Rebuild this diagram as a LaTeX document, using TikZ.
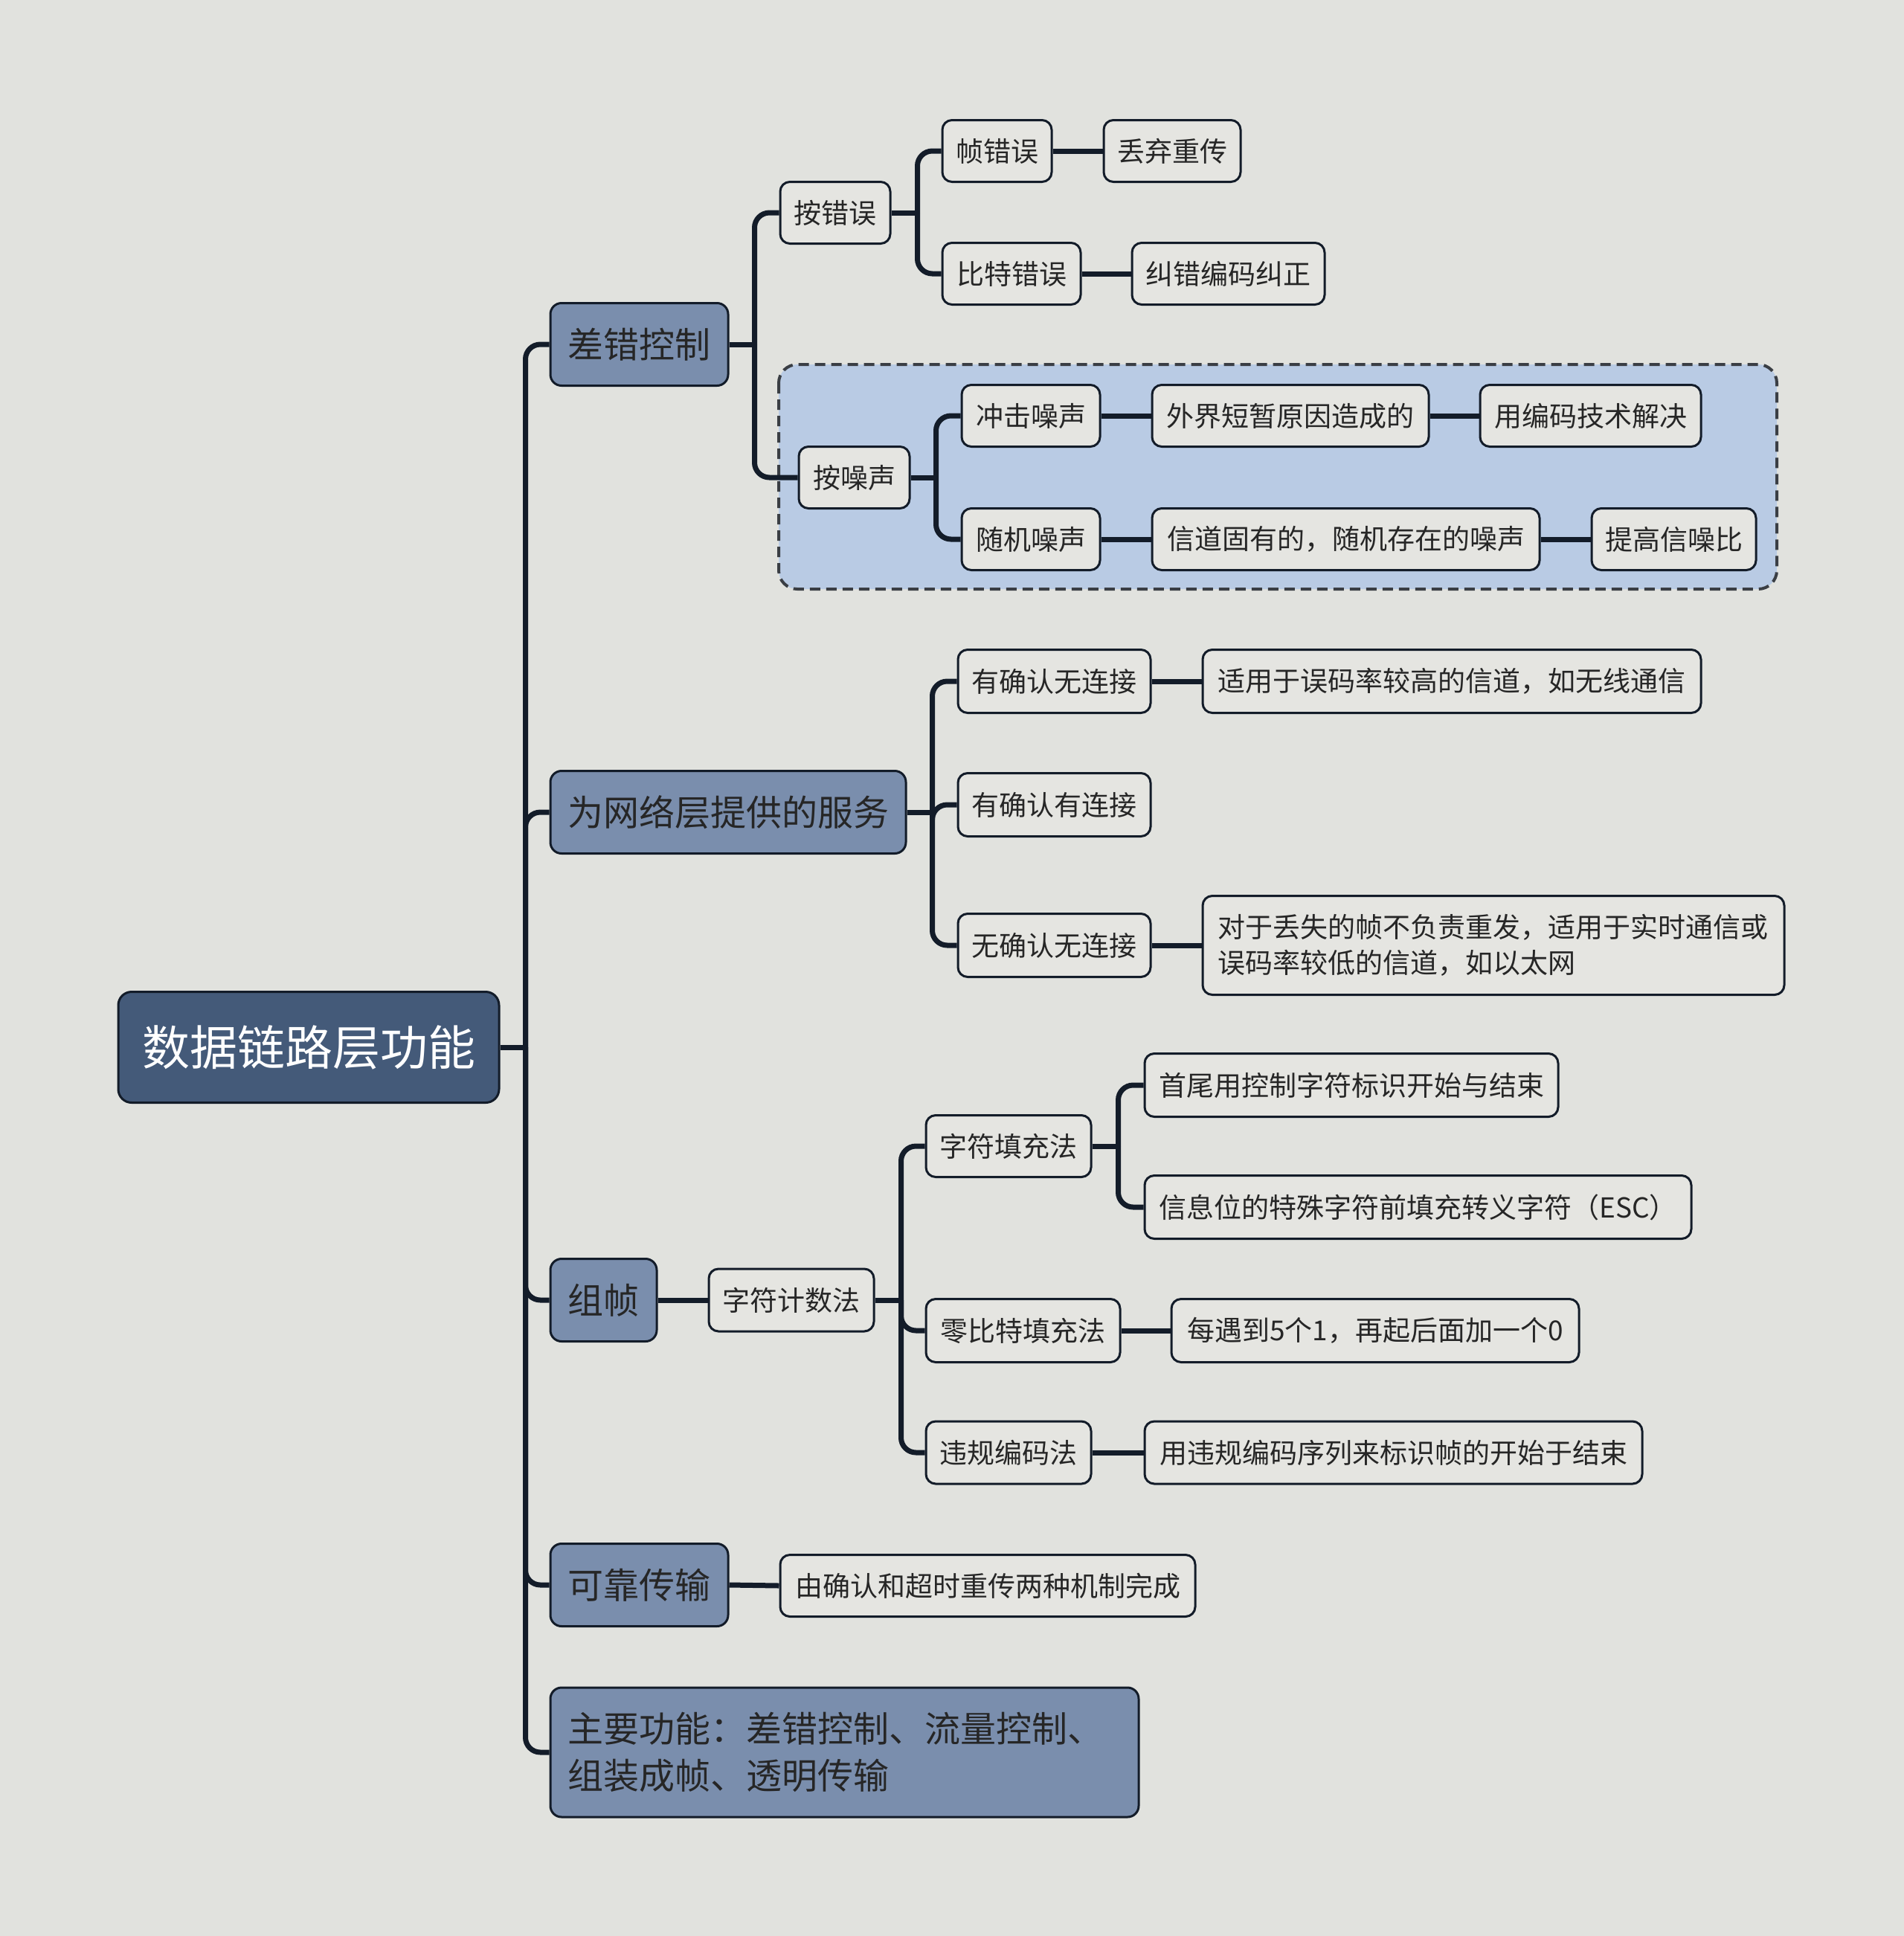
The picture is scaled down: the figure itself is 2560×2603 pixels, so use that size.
\documentclass[tikz,border=0pt]{standalone}
\usepackage{fontspec}
\setmainfont{Noto Sans CJK SC}
\definecolor{bgc}{HTML}{E1E2DE}
\definecolor{rootc}{HTML}{445A79}
\definecolor{lonec}{HTML}{7A8EAD}
\definecolor{leafc}{HTML}{E5E5E1}
\definecolor{linec}{HTML}{131C29}
\definecolor{txtc}{HTML}{262626}
\definecolor{boxc}{HTML}{B9CBE4}
\definecolor{dashc}{HTML}{3A3E44}
\pgfdeclarelayer{bglayer}
\pgfdeclarelayer{connlayer}
\pgfsetlayers{bglayer,connlayer,main}
\tikzset{
  leaf/.style={draw=linec, line width=3pt, fill=leafc, rounded corners=13pt, minimum height=83pt, inner sep=0pt, text=txtc, font=\fontsize{37}{48}\selectfont},
  lone/.style={draw=linec, line width=3pt, fill=lonec, rounded corners=15pt, minimum height=111pt, inner sep=0pt, text=txtc, font=\fontsize{48}{63}\selectfont},
  rootn/.style={draw=linec, line width=3pt, fill=rootc, rounded corners=18pt, inner sep=0pt, text=white, font=\fontsize{64}{76}\selectfont},
  conn/.style={draw=linec, line width=7pt, rounded corners=20pt},
  noisebox/.style={draw=dashc, fill=boxc, line width=4pt, dash pattern=on 14pt off 8pt, rounded corners=25pt}
}
\begin{document}
\begin{tikzpicture}[x=1pt,y=-1pt]
\begin{pgfonlayer}{bglayer}
\fill[bgc] (0,0) rectangle (2560,2603);
\draw[noisebox] (1047,490) rectangle (2389,792);
\end{pgfonlayer}
\useasboundingbox (0,0) rectangle (2560,2603);

% root
\node[rootn, minimum width=512pt, minimum height=149pt] (root) at (415,1408) {数据链路层功能};

% level 1
\node[lone, minimum width=239pt] (ec) at (859.5,463) {差错控制};
\node[lone, minimum width=478pt] (svc) at (979,1092) {为网络层提供的服务};
\node[lone, minimum width=143pt] (frm) at (811.5,1748) {组帧};
\node[lone, minimum width=239pt] (rel) at (859.5,2131) {可靠传输};
\node[lone, text width=745pt, align=left, inner xsep=23pt, minimum height=174pt] (mainf) at (1135.5,2356) {主要功能：差错控制、流量控制、\\组装成帧、透明传输};

% error control
\node[leaf, minimum width=148pt] (e1) at (1123,286) {按错误};
\node[leaf, minimum width=149pt] (n1) at (1148.5,642) {按噪声};
\node[leaf, minimum width=147pt] (e11) at (1340.5,203) {帧错误};
\node[leaf, minimum width=184pt] (e111) at (1576,203) {丢弃重传};
\node[leaf, minimum width=186pt] (e12) at (1360,368) {比特错误};
\node[leaf, minimum width=259pt] (e121) at (1651.5,368) {纠错编码纠正};
\node[leaf, minimum width=186pt] (n11) at (1386,559) {冲击噪声};
\node[leaf, minimum width=372pt] (n111) at (1735,559) {外界短暂原因造成的};
\node[leaf, minimum width=297pt] (n1111) at (2138.5,559) {用编码技术解决};
\node[leaf, minimum width=186pt] (n12) at (1386,725) {随机噪声};
\node[leaf, minimum width=521pt] (n121) at (1809.5,725) {信道固有的，随机存在的噪声};
\node[leaf, minimum width=221pt] (n1211) at (2250.5,725) {提高信噪比};

% services
\node[leaf, minimum width=259pt, minimum height=85pt] (s1) at (1417.5,916) {有确认无连接};
\node[leaf, minimum width=670pt, minimum height=85pt] (s11) at (1952,916) {适用于误码率较高的信道，如无线通信};
\node[leaf, minimum width=259pt, minimum height=85pt] (s2) at (1417.5,1082) {有确认有连接};
\node[leaf, minimum width=259pt, minimum height=85pt] (s3) at (1417.5,1271) {无确认无连接};
\node[leaf, text width=742pt, align=left, inner xsep=20pt, minimum height=133pt] (s31) at (2008,1271) {对于丢失的帧不负责重发，适用于实时通信或\\误码率较低的信道，如以太网};

% framing
\node[leaf, minimum width=222pt, minimum height=84pt] (f1) at (1064,1748) {字符计数法};
\node[leaf, minimum width=222pt] (f11) at (1356,1541) {字符填充法};
\node[leaf, minimum width=556pt, minimum height=85pt] (f111) at (1817,1459) {首尾用控制字符标识开始与结束};
\node[leaf, minimum width=735pt, minimum height=85pt] (f112) at (1906.5,1623) {信息位的特殊字符前填充转义字符（ESC）};
\node[leaf, minimum width=261pt, minimum height=85pt] (f12) at (1375.5,1789) {零比特填充法};
\node[leaf, minimum width=548pt, minimum height=85pt] (f121) at (1849,1789) {每遇到5个1，再起后面加一个0};
\node[leaf, minimum width=222pt, minimum height=84pt] (f13) at (1356,1953) {违规编码法};
\node[leaf, minimum width=669pt, minimum height=84pt] (f131) at (1873.5,1953) {用违规编码序列来标识帧的开始于结束};

% reliable
\node[leaf, minimum width=558pt] (r1) at (1328,2132) {由确认和超时重传两种机制完成};

\begin{pgfonlayer}{connlayer}
% trunk
\draw[conn] (root.east) -- ++(34,0) coordinate (jr);
\foreach \n in {ec,svc,frm,rel,mainf} \draw[conn] (jr) |- (\n.west);
% error control
\draw[conn] (ec.east) -- ++(34,0) coordinate (jec);
\foreach \n in {e1,n1} \draw[conn] (jec) |- (\n.west);
\draw[conn] (e1.east) -- ++(35,0) coordinate (je1);
\foreach \n in {e11,e12} \draw[conn] (je1) |- (\n.west);
\draw[conn] (n1.east) -- ++(34,0) coordinate (jn1);
\foreach \n in {n11,n12} \draw[conn] (jn1) |- (\n.west);
\draw[conn] (e11.east) -- (e111.west);
\draw[conn] (e12.east) -- (e121.west);
\draw[conn] (n11.east) -- (n111.west);
\draw[conn] (n111.east) -- (n1111.west);
\draw[conn] (n12.east) -- (n121.west);
\draw[conn] (n121.east) -- (n1211.west);
% services
\draw[conn] (svc.east) -- ++(34,0) coordinate (jsv);
\foreach \n in {s1,s2,s3} \draw[conn] (jsv) |- (\n.west);
\draw[conn] (s1.east) -- (s11.west);
\draw[conn] (s3.east) -- (s31.west);
% framing
\draw[conn] (frm.east) -- (f1.west);
\draw[conn] (f1.east) -- ++(35,0) coordinate (jf1);
\foreach \n in {f11,f12,f13} \draw[conn] (jf1) |- (\n.west);
\draw[conn] (f11.east) -- ++(35,0) coordinate (jf11);
\foreach \n in {f111,f112} \draw[conn] (jf11) |- (\n.west);
\draw[conn] (f12.east) -- (f121.west);
\draw[conn] (f13.east) -- (f131.west);
% reliable
\draw[conn] (rel.east) -- (r1.west);
\end{pgfonlayer}
\end{tikzpicture}
\end{document}
